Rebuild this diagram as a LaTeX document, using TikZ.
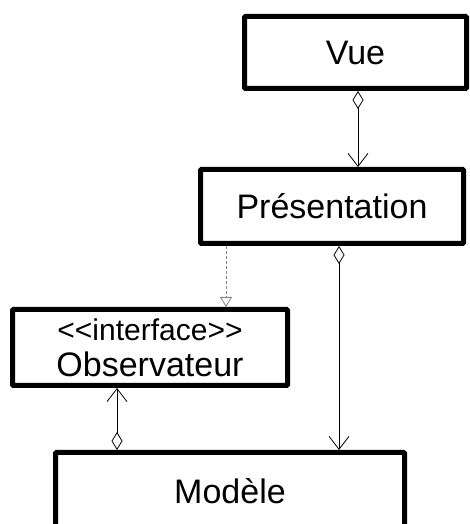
\documentclass[tikz,border=0pt]{standalone}
\usepackage{fontspec}
\setmainfont{Liberation Sans}
\usetikzlibrary{arrows.meta}

\tikzset{
  classbox/.style={draw, line width=5pt, rounded corners=1pt, fill=white, inner sep=0pt,
    font=\fontsize{34}{38}\selectfont, align=center},
  agg/.style={line width=0.8pt, {Diamond[open,length=18pt,width=11pt]}-{Straight Barb[length=13pt,width=20pt]}},
  realise/.style={line width=0.8pt, densely dashed, gray, -{Triangle[open,length=10pt,width=12pt]}}
}

\begin{document}
\begin{tikzpicture}[x=1pt,y=1pt]
\useasboundingbox (0,0) rectangle (470,524);
\clip (0,0) rectangle (470,524);
\node[classbox, minimum width=222, minimum height=72] (vue) at (355.5,471.5) {Vue};
\node[classbox, minimum width=263, minimum height=74] (pres) at (332,317.5) {Présentation};
\node[classbox, minimum width=275, minimum height=76] (obs) at (150,176.5)
  {{\fontsize{30}{33}\selectfont {<}{<}interface{>}{>}}\\[-2pt]Observateur};
\node[classbox, minimum width=349, minimum height=77] (modele) at (230,33) {Modèle};
\draw[agg] ([xshift=2.5]vue.south) -- ([xshift=26]pres.north);
\draw[agg] ([xshift=7]pres.south) -- ([xshift=109]modele.north);
\draw[realise] ([xshift=-106]pres.south) -- ([xshift=76]obs.north);
\draw[agg] ([xshift=-113]modele.north) -- ([xshift=-33]obs.south);
\end{tikzpicture}
\end{document}
